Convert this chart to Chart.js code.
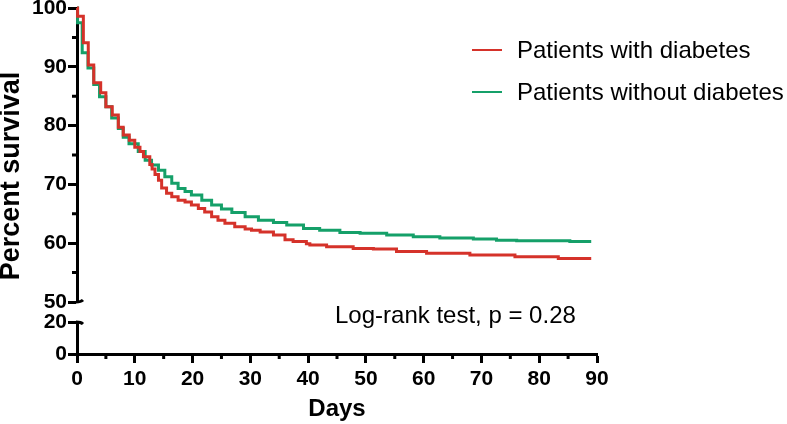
<!DOCTYPE html>
<html>
<head>
<meta charset="utf-8">
<script src="https://cdn.jsdelivr.net/npm/chart.js@4.4.1/dist/chart.umd.min.js"></script>
<style>
  html, body { margin: 0; padding: 0; background: #fff; }
  #wrap { width: 787px; height: 424px; }
</style>
</head>
<body>
<div id="wrap"><canvas id="kmChart"></canvas></div>
<script>
// Kaplan-Meier steps: day of each drop, and percent surviving after it
var withDays = [0, 0.1, 1.1, 1.95, 2.9, 4.1, 5.0, 6.1, 7.15, 8.0, 9.05, 10.0, 10.9, 11.5, 12.6, 13.0,
  13.5, 14.1, 14.65, 15.5, 16.4, 17.5, 18.7, 19.8, 21.0, 22.1, 23.3, 24.4, 25.6, 27.3, 29.1, 30.2,
  31.7, 34.0, 36.0, 37.4, 39.7, 40.3, 43.2, 47.8, 51.3, 55.3, 60.5, 68.0, 75.8, 83.3, 89.0];
var withSurv = [100, 98.6, 94.1, 90.3, 87.3, 85.6, 83.2, 81.8, 79.7, 78.4, 77.5, 76.3, 75.6, 74.7, 73.4, 72.6,
  71.7, 70.7, 69.4, 68.5, 67.9, 67.3, 67.0, 66.5, 65.9, 65.3, 64.5, 63.9, 63.4, 62.8, 62.4, 62.2,
  61.9, 61.4, 60.6, 60.3, 59.9, 59.7, 59.4, 59.1, 59.0, 58.6, 58.3, 58.0, 57.7, 57.4, 57.4];

var withoutDays = [0, 0.1, 0.9, 1.9, 2.9, 3.9, 5.0, 6.0, 7.15, 8.0, 9.0, 10.6, 11.8, 12.9, 14.1, 15.2,
  16.4, 17.5, 18.7, 19.8, 21.6, 23.3, 25.0, 26.8, 29.1, 31.4, 34.0, 36.3, 39.2, 42.0, 45.5, 49.0,
  53.6, 58.2, 62.8, 68.6, 72.6, 76.1, 85.3, 89.0];
var withoutSurv = [100, 97.5, 92.4, 89.8, 87.0, 84.9, 83.2, 81.3, 79.5, 78.0, 76.9, 75.6, 74.1, 73.3, 72.4, 71.3,
  70.2, 69.3, 68.8, 68.2, 67.3, 66.5, 65.8, 65.2, 64.5, 63.9, 63.5, 63.1, 62.5, 62.2, 61.8, 61.7,
  61.4, 61.1, 60.9, 60.7, 60.5, 60.4, 60.3, 60.3];

var seriesNames = ['Patients with diabetes', 'Patients without diabetes'];
var seriesColors = ['#d5322a', '#15a069'];
var testNote = 'Log-rank test, p = 0.28';

var xTicks = [0, 10, 20, 30, 40, 50, 60, 70, 80, 90];
var xMinor = [5, 15, 25, 35, 45, 55, 65, 75, 85];
var yTopTicks = [50, 60, 70, 80, 90, 100];
var yTopMinor = [55, 65, 75, 85, 95];
var yLowTicks = [0, 20];

var FONT = "'Liberation Sans', Arial, sans-serif";

function toPoints(days, surv) {
  return days.map(function (d, i) { return { x: d, y: surv[i] }; });
}

function tickList(values) {
  return function (s) { s.ticks = values.map(function (v) { return { value: v }; }); };
}

function fitLeft(s) {
  s.width = 77;
  s.paddingTop = 0;
  s.paddingBottom = 0;
}

var yTickOpts = {
  color: '#000',
  padding: 1,
  autoSkip: false,
  font: { family: FONT, size: 21, weight: 'bold' }
};
var yGridOpts = { drawOnChartArea: false, tickLength: 9, tickWidth: 3, tickColor: '#000' };

var extras = {
  id: 'extras',
  afterDraw: function (chart) {
    var ctx = chart.ctx;
    var x = chart.scales.x, yTop = chart.scales.y, yLow = chart.scales.yLow;
    var left = chart.chartArea.left;
    ctx.save();
    ctx.strokeStyle = '#000';
    ctx.lineWidth = 3;
    ctx.beginPath();
    xMinor.forEach(function (v) {
      var px = x.getPixelForValue(v);
      ctx.moveTo(px, x.top);
      ctx.lineTo(px, x.top + 5);
    });
    yTopMinor.forEach(function (v) {
      var py = yTop.getPixelForValue(v);
      ctx.moveTo(left - 5, py);
      ctx.lineTo(left, py);
    });
    ctx.stroke();

    // axis break marks
    var pTop = yTop.getPixelForValue(50), pLow = yLow.getPixelForValue(20);
    ctx.beginPath();
    ctx.moveTo(left - 1, pTop);
    ctx.quadraticCurveTo(left + 4, pTop, left + 6, pTop - 2);
    ctx.moveTo(left - 1, pLow);
    ctx.quadraticCurveTo(left + 4, pLow, left + 6, pLow + 2);
    ctx.stroke();

    // y axis title
    ctx.fillStyle = '#000';
    ctx.save();
    ctx.translate(12, 176);
    ctx.rotate(-Math.PI / 2);
    ctx.textAlign = 'center';
    ctx.textBaseline = 'middle';
    ctx.font = 'bold 27px ' + FONT;
    ctx.fillText('Percent survival', 0, 0);
    ctx.restore();

    // legend
    ctx.font = '24px ' + FONT;
    ctx.textAlign = 'left';
    ctx.textBaseline = 'alphabetic';
    ctx.lineWidth = 2;
    seriesNames.forEach(function (name, i) {
      var base = 58 + i * 42;
      ctx.strokeStyle = seriesColors[i];
      ctx.beginPath();
      ctx.moveTo(472, base - 8);
      ctx.lineTo(502, base - 8);
      ctx.stroke();
      ctx.fillText(name, 517, base);
    });

    ctx.fillText(testNote, 335, 323);
    ctx.restore();
  }
};

var ctx = document.getElementById('kmChart').getContext('2d');
var kmChart = new Chart(ctx, {
  type: 'line',
  data: {
    datasets: [{
      label: seriesNames[0],
      data: toPoints(withDays, withSurv),
      borderColor: seriesColors[0],
      borderWidth: 3,
      pointRadius: 0,
      stepped: 'before',
      fill: false,
      clip: false,
      yAxisID: 'y'
    }, {
      label: seriesNames[1],
      data: toPoints(withoutDays, withoutSurv),
      borderColor: seriesColors[1],
      borderWidth: 3,
      pointRadius: 0,
      stepped: 'before',
      fill: false,
      clip: false,
      yAxisID: 'y'
    }]
  },
  options: {
    responsive: true,
    maintainAspectRatio: false,
    animation: false,
    layout: { padding: { top: 8, right: 190, bottom: 0, left: 0 } },
    plugins: {
      legend: { display: false },
      tooltip: { enabled: false }
    },
    scales: {
      x: {
        type: 'linear',
        min: 0,
        max: 90,
        afterBuildTicks: tickList(xTicks),
        afterFit: function (s) { s.height = 70; },
        grid: { drawOnChartArea: false, tickLength: 9, tickWidth: 3, tickColor: '#000' },
        border: { color: '#000', width: 3 },
        ticks: { color: '#000', padding: 4, maxRotation: 0, autoSkip: false, font: { family: FONT, size: 21, weight: 'bold' } },
        title: {
          display: true,
          text: 'Days',
          color: '#000',
          padding: { top: 6, bottom: 0 },
          font: { family: FONT, size: 24, weight: 'bold' }
        }
      },
      // left axes stack top-down in reverse order of definition
      yLow: {
        type: 'linear',
        position: 'left',
        stack: 'surv',
        stackWeight: 32,
        min: 0,
        max: 20,
        afterBuildTicks: tickList(yLowTicks),
        afterFit: fitLeft,
        grid: yGridOpts,
        border: { color: '#000', width: 3 },
        ticks: yTickOpts
      },
      yGap: {
        type: 'linear',
        position: 'left',
        stack: 'surv',
        stackWeight: 20,
        min: 20,
        max: 50,
        afterFit: fitLeft,
        grid: { display: false },
        border: { display: false },
        ticks: { display: false }
      },
      y: {
        type: 'linear',
        position: 'left',
        stack: 'surv',
        stackWeight: 294,
        min: 50,
        max: 100,
        afterBuildTicks: tickList(yTopTicks),
        afterFit: fitLeft,
        grid: yGridOpts,
        border: { color: '#000', width: 3 },
        ticks: yTickOpts
      }
    }
  },
  plugins: [extras]
});
</script>
</body>
</html>
